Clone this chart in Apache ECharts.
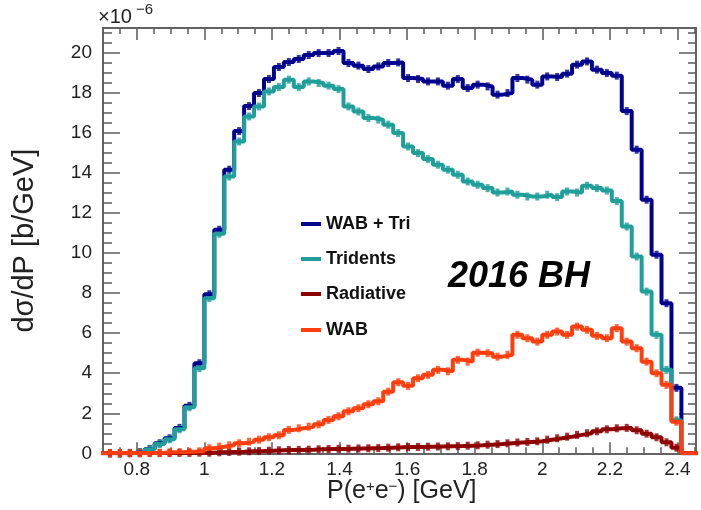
<!DOCTYPE html>
<html>
<head>
<meta charset="utf-8">
<script src="https://cdn.jsdelivr.net/npm/echarts@6/dist/echarts.min.js"></script>
<style>
  html, body { margin: 0; padding: 0; background: #fff; }
  #chart { width: 701px; height: 510px; }
</style>
</head>
<body>
<div id="chart"></div>
<script>
// Histogram binning: 85 bins over [0, 2.5] GeV, filled bins start at bin 24
const histRange = 2.5;
const histBins = 85;
const firstBin = 24;

// d(sigma)/dP per bin, in units of 1e-6 b/GeV
const wabTri = [0, 0, 0.02, 0.06, 0.22, 0.5, 0.75, 1.27, 2.37, 4.5,
  7.95, 11.17, 14.17, 16.1, 17.35, 18.0, 18.7, 19.3, 19.55, 19.7,
  19.9, 20.0, 20.0, 20.1, 19.5, 19.37, 19.2, 19.33, 19.5, 19.53,
  18.75, 18.7, 18.58, 18.58, 18.37, 18.7, 18.25, 18.42, 18.33, 17.92,
  18.0, 18.75, 18.67, 18.42, 18.83, 18.8, 18.97, 19.42, 19.58, 19.17,
  19.0, 18.87, 17.1, 15.17, 12.67, 9.92, 7.5, 3.27];
const tridents = [0, 0, 0.02, 0.05, 0.2, 0.47, 0.7, 1.2, 2.3, 4.25,
  7.75, 10.97, 13.83, 15.58, 16.83, 17.33, 18.08, 18.3, 18.67, 18.3,
  18.58, 18.5, 18.37, 18.2, 17.33, 17.08, 16.75, 16.67, 16.42, 16.0,
  15.33, 15.0, 14.7, 14.42, 14.17, 13.92, 13.58, 13.42, 13.25, 13.03,
  13.08, 12.92, 12.83, 12.83, 12.92, 12.8, 13.08, 13.03, 13.37, 13.25,
  13.13, 12.6, 11.33, 9.83, 8.08, 5.92, 4.17, 1.65];
const radiative = [0, 0, 0, 0, 0.01, 0.01, 0.01, 0.02, 0.02, 0.03,
  0.03, 0.05, 0.07, 0.08, 0.1, 0.11, 0.13, 0.15, 0.16, 0.17,
  0.18, 0.2, 0.21, 0.22, 0.23, 0.24, 0.25, 0.26, 0.28, 0.3,
  0.31, 0.32, 0.33, 0.34, 0.35, 0.36, 0.38, 0.4, 0.43, 0.46,
  0.5, 0.54, 0.57, 0.6, 0.68, 0.75, 0.83, 0.92, 1.0, 1.1,
  1.2, 1.25, 1.27, 1.15, 0.98, 0.8, 0.55, 0.28];
const wab = [0.01, 0.01, 0.01, 0.02, 0.02, 0.03, 0.05, 0.06, 0.08, 0.1,
  0.25, 0.33, 0.4, 0.5, 0.58, 0.68, 0.8, 0.9, 1.17, 1.25,
  1.33, 1.45, 1.67, 1.85, 2.1, 2.25, 2.45, 2.6, 3.08, 3.55,
  3.37, 3.75, 3.92, 4.17, 4.1, 4.67, 4.58, 5.03, 5.0, 4.83,
  4.92, 5.92, 5.75, 5.58, 5.92, 6.08, 5.92, 6.33, 6.17, 5.87,
  5.75, 6.25, 5.58, 5.25, 4.58, 4.0, 3.42, 1.58];

const seriesNames = ['WAB + Tri', 'Tridents', 'Radiative', 'WAB'];
const seriesColors = ['#00008f', '#1f9e9a', '#8e0000', '#ff3d0d'];
const seriesValues = [wabTri, tridents, radiative, wab];

const xTicks = [0.8, 1, 1.2, 1.4, 1.6, 1.8, 2, 2.2, 2.4];
const yTicks = [0, 2, 4, 6, 8, 10, 12, 14, 16, 18, 20];

const xMin = 0.7, xMax = 2.455, yMin = 0, yMax = 21.25;
const binW = histRange / histBins;
const FONT = '"Liberation Sans", Arial, Helvetica, sans-serif';
const AXIS_COLOR = '#5a5a5a';

// Step outline through bin edges (value held over each bin)
function outline(vals) {
  const pts = [[(firstBin - 1) * binW, 0]];
  vals.forEach((v, i) => pts.push([(firstBin + i) * binW, v]));
  pts.push([(firstBin + vals.length) * binW, 0]);
  pts.push([(firstBin + vals.length + 4) * binW, 0]);
  return pts;
}
// Bin centres, for the small error-bar marks
function centres(vals) {
  return vals.map((v, i) => [(firstBin + i + 0.5) * binW, v]);
}

// Minor tick positions: quarter divisions between majors
const xMinor = [];
for (let k = 15; k <= 49; k++) if (k % 4 !== 0) xMinor.push(+(k * 0.05).toFixed(2));
const yMinor = [];
for (let k = 1; k <= 42; k++) if (k % 4 !== 0) yMinor.push(k * 0.5);

function xAxis(position, values, len, withLabels) {
  return {
    type: 'value', position: position, min: xMin, max: xMax,
    axisLine: { show: true, onZero: false, lineStyle: { color: AXIS_COLOR, width: 1.5 } },
    axisTick: { show: true, inside: true, length: len, customValues: values,
      lineStyle: { color: AXIS_COLOR, width: 1.5 } },
    axisLabel: { show: withLabels, customValues: values, margin: 7,
      fontSize: 19, fontFamily: FONT, color: '#222',
      formatter: v => String(+(+v).toFixed(1)) },
    splitLine: { show: false }
  };
}
function yAxis(position, values, len, withLabels) {
  return {
    type: 'value', position: position, min: yMin, max: yMax,
    axisLine: { show: true, onZero: false, lineStyle: { color: AXIS_COLOR, width: 1.5 } },
    axisTick: { show: true, inside: true, length: len, customValues: values,
      lineStyle: { color: AXIS_COLOR, width: 1.5 } },
    axisLabel: { show: withLabels, customValues: values, margin: 11,
      fontSize: 19, fontFamily: FONT, color: '#222',
      formatter: v => String(+v) },
    splitLine: { show: false }
  };
}

const yMain = yAxis('left', yTicks, 17, true);
yMain.name = 'd\u03c3/dP [b/GeV]';
yMain.nameLocation = 'middle';
yMain.nameRotate = 90;
yMain.nameGap = 64;
yMain.nameTextStyle = { fontSize: 29, fontFamily: FONT, color: '#222' };

const series = [];
seriesValues.forEach((vals, s) => {
  series.push({
    name: seriesNames[s], type: 'line', step: 'end', data: outline(vals),
    xAxisIndex: 0, yAxisIndex: 0, symbol: 'none', clip: true,
    color: seriesColors[s],
    lineStyle: { color: seriesColors[s], width: 4 },
    animation: false
  });
  series.push({
    name: seriesNames[s], type: 'scatter', data: centres(vals),
    xAxisIndex: 0, yAxisIndex: 0, symbol: 'rect', symbolSize: [4, 8],
    itemStyle: { color: seriesColors[s] }, silent: true, clip: true,
    animation: false
  });
});

const legendTops = [214, 249, 284, 320];
const legends = seriesNames.map((n, i) => ({
  data: [{ name: n, icon: 'rect' }],
  left: 301, top: legendTops[i], orient: 'vertical', padding: 0,
  itemWidth: 20, itemHeight: 4, selectedMode: false,
  textStyle: { fontSize: 18, fontWeight: 'bold', fontFamily: FONT, color: '#111', lineHeight: 20 }
}));

const chart = echarts.init(document.getElementById('chart'), null, { renderer: 'canvas' });
chart.setOption({
  backgroundColor: '#fff',
  animation: false,
  grid: { left: 103, right: 5, top: 28, bottom: 56.7, containLabel: false, outerBoundsMode: 'none' },
  xAxis: [
    xAxis('bottom', xTicks, 11, true),
    xAxis('bottom', xMinor, 6, false),
    xAxis('top', xTicks, 12, false),
    xAxis('top', xMinor, 6, false)
  ],
  yAxis: [
    yMain,
    yAxis('left', yMinor, 9, false),
    yAxis('right', yTicks, 17, false),
    yAxis('right', yMinor, 8, false)
  ],
  legend: legends,
  series: series,
  graphic: [
    { type: 'text', left: 448, top: 259,
      style: { text: '2016 BH', font: 'italic bold 36px ' + FONT, fill: '#000' } },
    { type: 'text', left: 98, top: 7,
      style: { text: '\u00d710', font: '20px ' + FONT, fill: '#222' } },
    { type: 'text', left: 136, top: 2,
      style: { text: '\u22126', font: '15px ' + FONT, fill: '#222' } },
    { type: 'text', left: 327, top: 479,
      style: {
        text: '{n|P(e}{s|+}{n|e}{s|\u2212}{n|) [GeV]}',
        rich: {
          n: { fontSize: 25, fontFamily: FONT, fill: '#222', lineHeight: 25 },
          s: { fontSize: 15, fontFamily: FONT, fill: '#222', lineHeight: 15, verticalAlign: 'top' }
        }
      } }
  ]
});
</script>
</body>
</html>
